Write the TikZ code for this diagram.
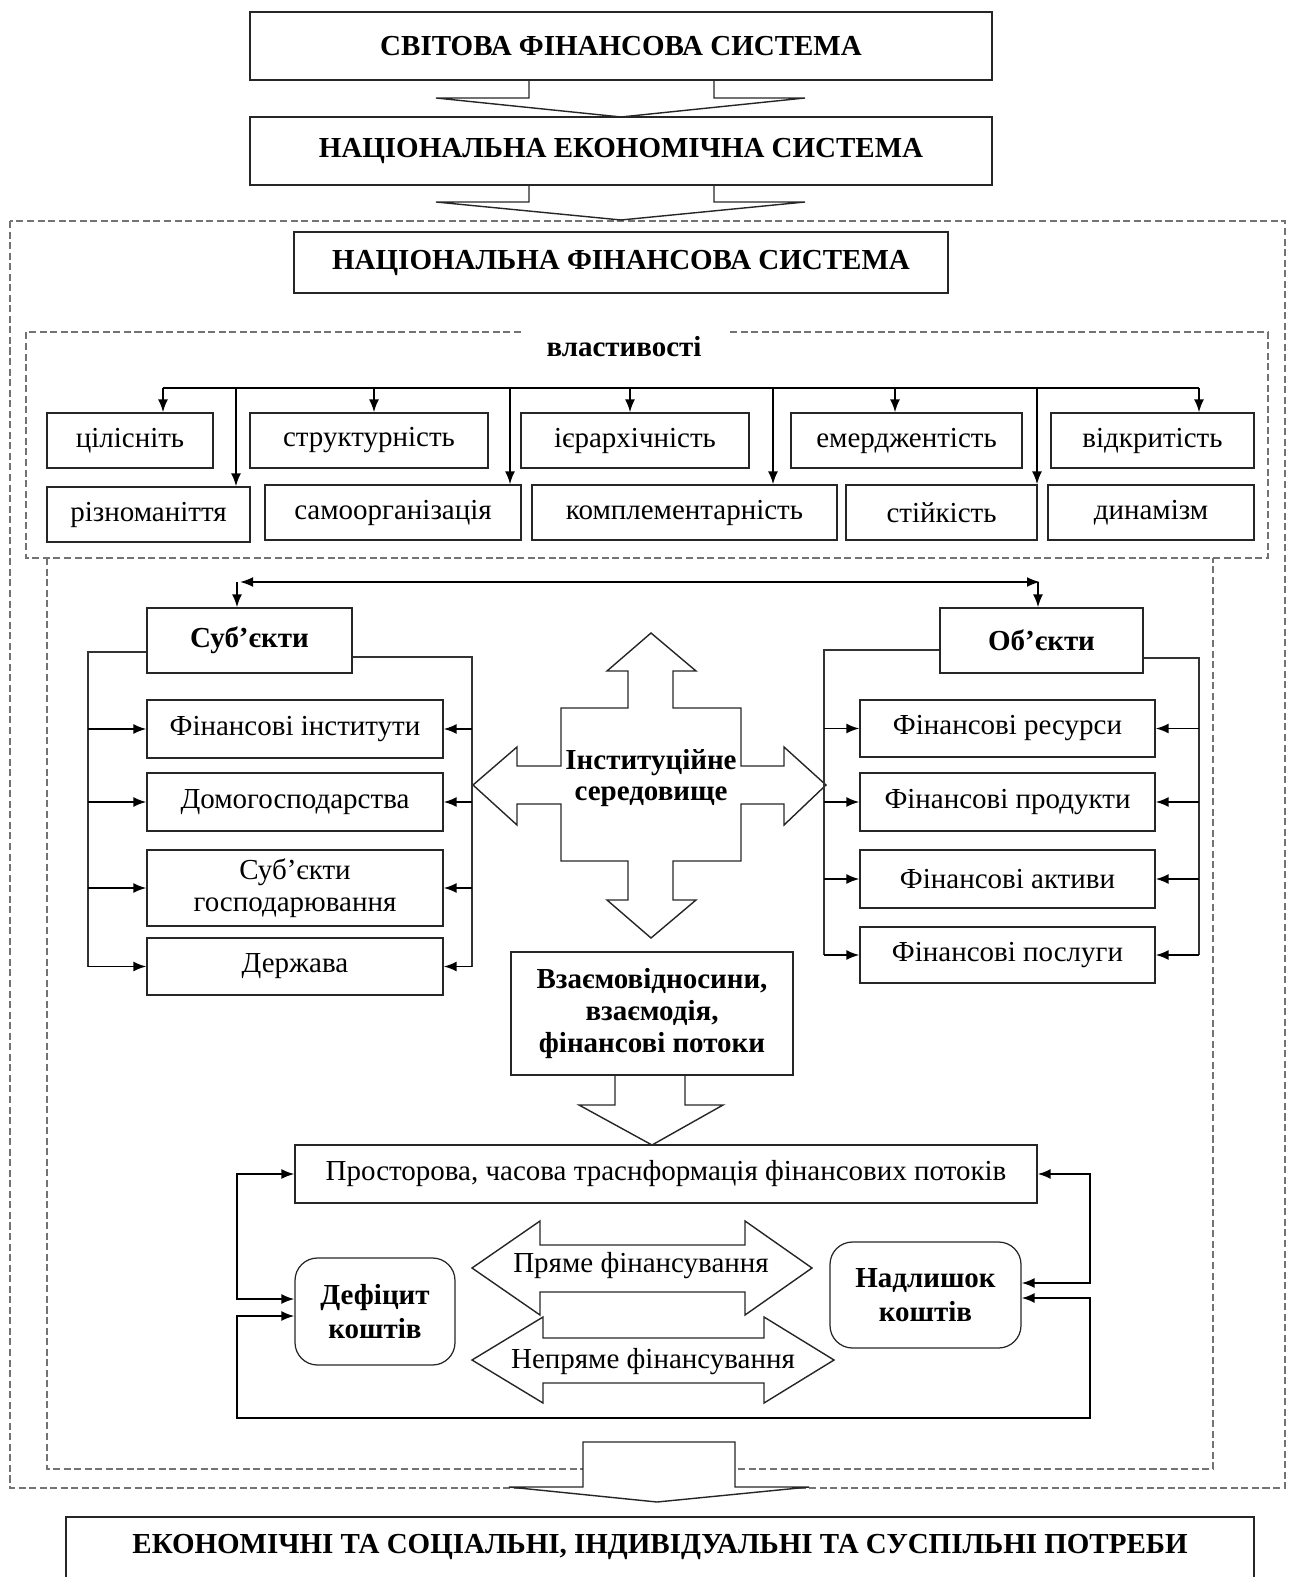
\documentclass[tikz,border=0pt]{standalone}
\usepackage{fontspec}
\setmainfont{Liberation Serif}
\usetikzlibrary{positioning}
\usetikzlibrary{calc}
\usetikzlibrary{arrows.meta}

\begin{document}
\begin{tikzpicture}[x=0.02cm, y=-0.02cm,
    spot/.style n args={4}{at={({(#1+#3)/2},{(#2+#4)/2})}, minimum width={0.02cm*(#3-#1)}, minimum height={0.02cm*(#4-#2)}},
    box/.style={draw=black!85, line width=0.7pt, inner sep=0pt, align=center, font=\fontsize{16.5}{18}\selectfont},
    bbox/.style={box, font=\bfseries\fontsize{16.5}{18}\selectfont},
    rbox/.style={bbox, rounded corners=0.45cm},
    frame/.style={draw=black!55, line width=0.9pt, dash pattern=on 4pt off 2pt},
    link/.style={draw=black!80, line width=0.7pt},
    arr/.style={-{Latex[length=0.26cm,width=0.2cm]}, line width=1.1pt},
    darr/.style={{Latex[length=0.26cm,width=0.2cm]}-{Latex[length=0.26cm,width=0.2cm]}, line width=1.1pt},
    barr/.style={draw=black!85, line width=0.8pt, line join=miter},
  ]
  \useasboundingbox (0,0) rectangle (1288,1577);

  % frames %
  \draw[frame] (10,221) rectangle (1285,1488);
  \draw[frame] (521,332) -- (26,332) -- (26,558) -- (1268,558) -- (1268,332) -- (727,332);
  \draw[frame] (47,558) -- (47,1469) -- (1213,1469) -- (1213,558);

  % nodes %
  \node[bbox, spot={250}{12}{992}{80}] (world) {СВІТОВА ФІНАНСОВА СИСТЕМА};
  \node[bbox, spot={250}{117}{992}{185}] (necon) {НАЦІОНАЛЬНА ЕКОНОМІЧНА СИСТЕМА};
  \node[bbox, spot={294}{232}{948}{293}] (nfin) {НАЦІОНАЛЬНА ФІНАНСОВА СИСТЕМА};
  \node[font=\bfseries\fontsize{16.5}{18}\selectfont] (prop) at (624,347) {властивості};

  % properties, upper row
  \node[box, spot={47}{413}{213}{468}] (cil) {цілісніть};
  \node[box, spot={250}{413}{488}{468}] (str) {структурність};
  \node[box, spot={521}{413}{749}{468}] (ier) {ієрархічність};
  \node[box, spot={791}{413}{1022}{468}] (eme) {емерджентість};
  \node[box, spot={1051}{413}{1254}{468}] (vid) {відкритість};
  % properties, lower row
  \node[box, spot={47}{487}{250}{542}] (riz) {різноманіття};
  \node[box, spot={265}{485}{521}{540}] (sam) {самоорганізація};
  \node[box, spot={532}{485}{837}{540}] (kom) {комплементарність};
  \node[box, spot={846}{485}{1037}{540}] (sti) {стійкість};
  \node[box, spot={1048}{485}{1254}{540}] (din) {динамізм};

  % subjects
  \node[bbox, spot={147}{608}{352}{673}] (subj) {Суб’єкти};
  \node[box, spot={147}{700}{443}{758}] (s1) {Фінансові інститути};
  \node[box, spot={147}{773}{443}{831}] (s2) {Домогосподарства};
  \node[box, spot={147}{850}{443}{926}] (s3) {Суб’єкти\\господарювання};
  \node[box, spot={147}{938}{443}{995}] (s4) {Держава};

  % objects
  \node[bbox, spot={940}{608}{1143}{673}] (obj) {Об’єкти};
  \node[box, spot={860}{700}{1155}{757}] (o1) {Фінансові ресурси};
  \node[box, spot={860}{773}{1155}{831}] (o2) {Фінансові продукти};
  \node[box, spot={860}{850}{1155}{908}] (o3) {Фінансові активи};
  \node[box, spot={860}{927}{1155}{983}] (o4) {Фінансові послуги};

  % institutional environment
  \draw[barr] (651,633) -- (696,671) -- (673,671) -- (673,708) -- (741,708) -- (741,766)
    -- (784,766) -- (784,747) -- (826,785) -- (784,825) -- (784,804) -- (741,804)
    -- (741,861) -- (673,861) -- (673,900) -- (696,900) -- (651,938) -- (607,900)
    -- (628,900) -- (628,861) -- (561,861) -- (561,804) -- (517,804) -- (517,825)
    -- (473,785) -- (517,747) -- (517,766) -- (561,766) -- (561,708) -- (628,708)
    -- (628,671) -- (607,671) -- cycle;
  \node[align=center, font=\bfseries\fontsize{16.5}{18}\selectfont] (inst) at (651,778) {Інституційне\\середовище};

  \node[bbox, spot={511}{952}{793}{1075}] (rel) {Взаємовідносини,\\взаємодія,\\фінансові потоки};
  \node[box, spot={295}{1145}{1037}{1203}] (prost) {Просторова, часова траснформація фінансових потоків};
  \node[rbox, spot={295}{1258}{455}{1365}, font=\bfseries\fontsize{16.5}{19}\selectfont] (def) {Дефіцит\\коштів};
  \node[rbox, spot={830}{1242}{1021}{1348}, font=\bfseries\fontsize{16.5}{19}\selectfont] (nad) {Надлишок\\коштів};

  % direct and indirect financing
  \draw[barr] (472,1268) -- (540,1221) -- (540,1245) -- (745,1245) -- (745,1221) -- (812,1268)
    -- (745,1315) -- (745,1292) -- (540,1292) -- (540,1315) -- cycle;
  \node[font=\fontsize{16.5}{18}\selectfont] (pryame) at (641,1266) {Пряме фінансування};
  \draw[barr] (472,1360) -- (543,1317) -- (543,1338) -- (764,1338) -- (764,1317) -- (834,1360)
    -- (764,1403) -- (764,1383) -- (543,1383) -- (543,1403) -- cycle;
  \node[font=\fontsize{16.5}{18}\selectfont] (nepryame) at (653,1362) {Непряме фінансування};

  \node[bbox, spot={66}{1517}{1254}{1600}, text height=0.33cm, text depth=0.53cm] (needs) {ЕКОНОМІЧНІ ТА СОЦІАЛЬНІ, ІНДИВІДУАЛЬНІ ТА СУСПІЛЬНІ ПОТРЕБИ};

  % block arrows %
  \draw[barr] (529,80) -- (529,98) -- (436,98) -- (621,117) -- (805,98) -- (714,98) -- (714,80);
  \draw[barr] (529,185) -- (529,202) -- (436,202) -- (621,220) -- (805,202) -- (714,202) -- (714,185);
  \draw[barr] (615,1075) -- (615,1105) -- (579,1105) -- (652,1145) -- (723,1105) -- (685,1105) -- (685,1075);
  \draw[barr, fill=white] (583,1442) -- (735,1442) -- (735,1487) -- (809,1487) -- (657,1502)
    -- (509,1487) -- (583,1487) -- cycle;

  % edges %
  \coordinate (bl) at (163,388);
  \coordinate (br) at (1199,388);
  \draw[line width=1.1pt] (bl) -- (br);
  \foreach \x/\n in {163/cil, 374/str, 630/ier, 895/eme, 1199/vid, 236/riz, 510/sam, 773/kom, 1037/sti} {
    \coordinate (p) at (\x,388);
    \draw[arr] (p) -- (p |- \n.north);
  }

  \coordinate (tl) at (240,582);
  \coordinate (tr) at (1040,582);
  \coordinate (tsl) at (237,582);
  \coordinate (tsr) at (1038,582);
  \draw[darr] (tl) -- (tr);
  \draw[arr] (tsl) -- (tsl |- subj.north);
  \draw[arr] (tsr) -- (tsr |- obj.north);

  \coordinate (sl) at (88,652);
  \coordinate (sr) at (472,657);
  \draw[link] (subj.west |- sl) -- (sl) -- (sl |- s4.west);
  \draw[link] (subj.east |- sr) -- (sr) -- (sr |- s4.east);
  \foreach \n in {s1,s2,s3,s4} {
    \draw[arr] (sl |- \n.west) -- (\n.west);
    \draw[arr] (sr |- \n.east) -- (\n.east);
  }

  \coordinate (ol) at (824,650);
  \coordinate (or) at (1199,658);
  \draw[link] (obj.west |- ol) -- (ol) -- (ol |- o4.west);
  \draw[link] (obj.east |- or) -- (or) -- (or |- o4.east);
  \foreach \n in {o1,o2,o3,o4} {
    \draw[arr] (ol |- \n.west) -- (\n.west);
    \draw[arr] (or |- \n.east) -- (\n.east);
  }

  \coordinate (la) at (237,1174);
  \coordinate (lb) at (237,1299);
  \coordinate (lc) at (237,1316);
  \coordinate (ld) at (237,1418);
  \coordinate (ra) at (1090,1174);
  \coordinate (rb) at (1090,1283);
  \coordinate (rc) at (1090,1298);
  \coordinate (rd) at (1090,1418);
  \draw[darr] (prost.west) -- (la) -- (lb) -- (def.west |- lb);
  \draw[darr] (def.west |- lc) -- (lc) -- (ld) -- (rd) -- (rc) -- (nad.east |- rc);
  \draw[darr] (prost.east) -- (ra) -- (rb) -- (nad.east |- rb);
\end{tikzpicture}
\end{document}
